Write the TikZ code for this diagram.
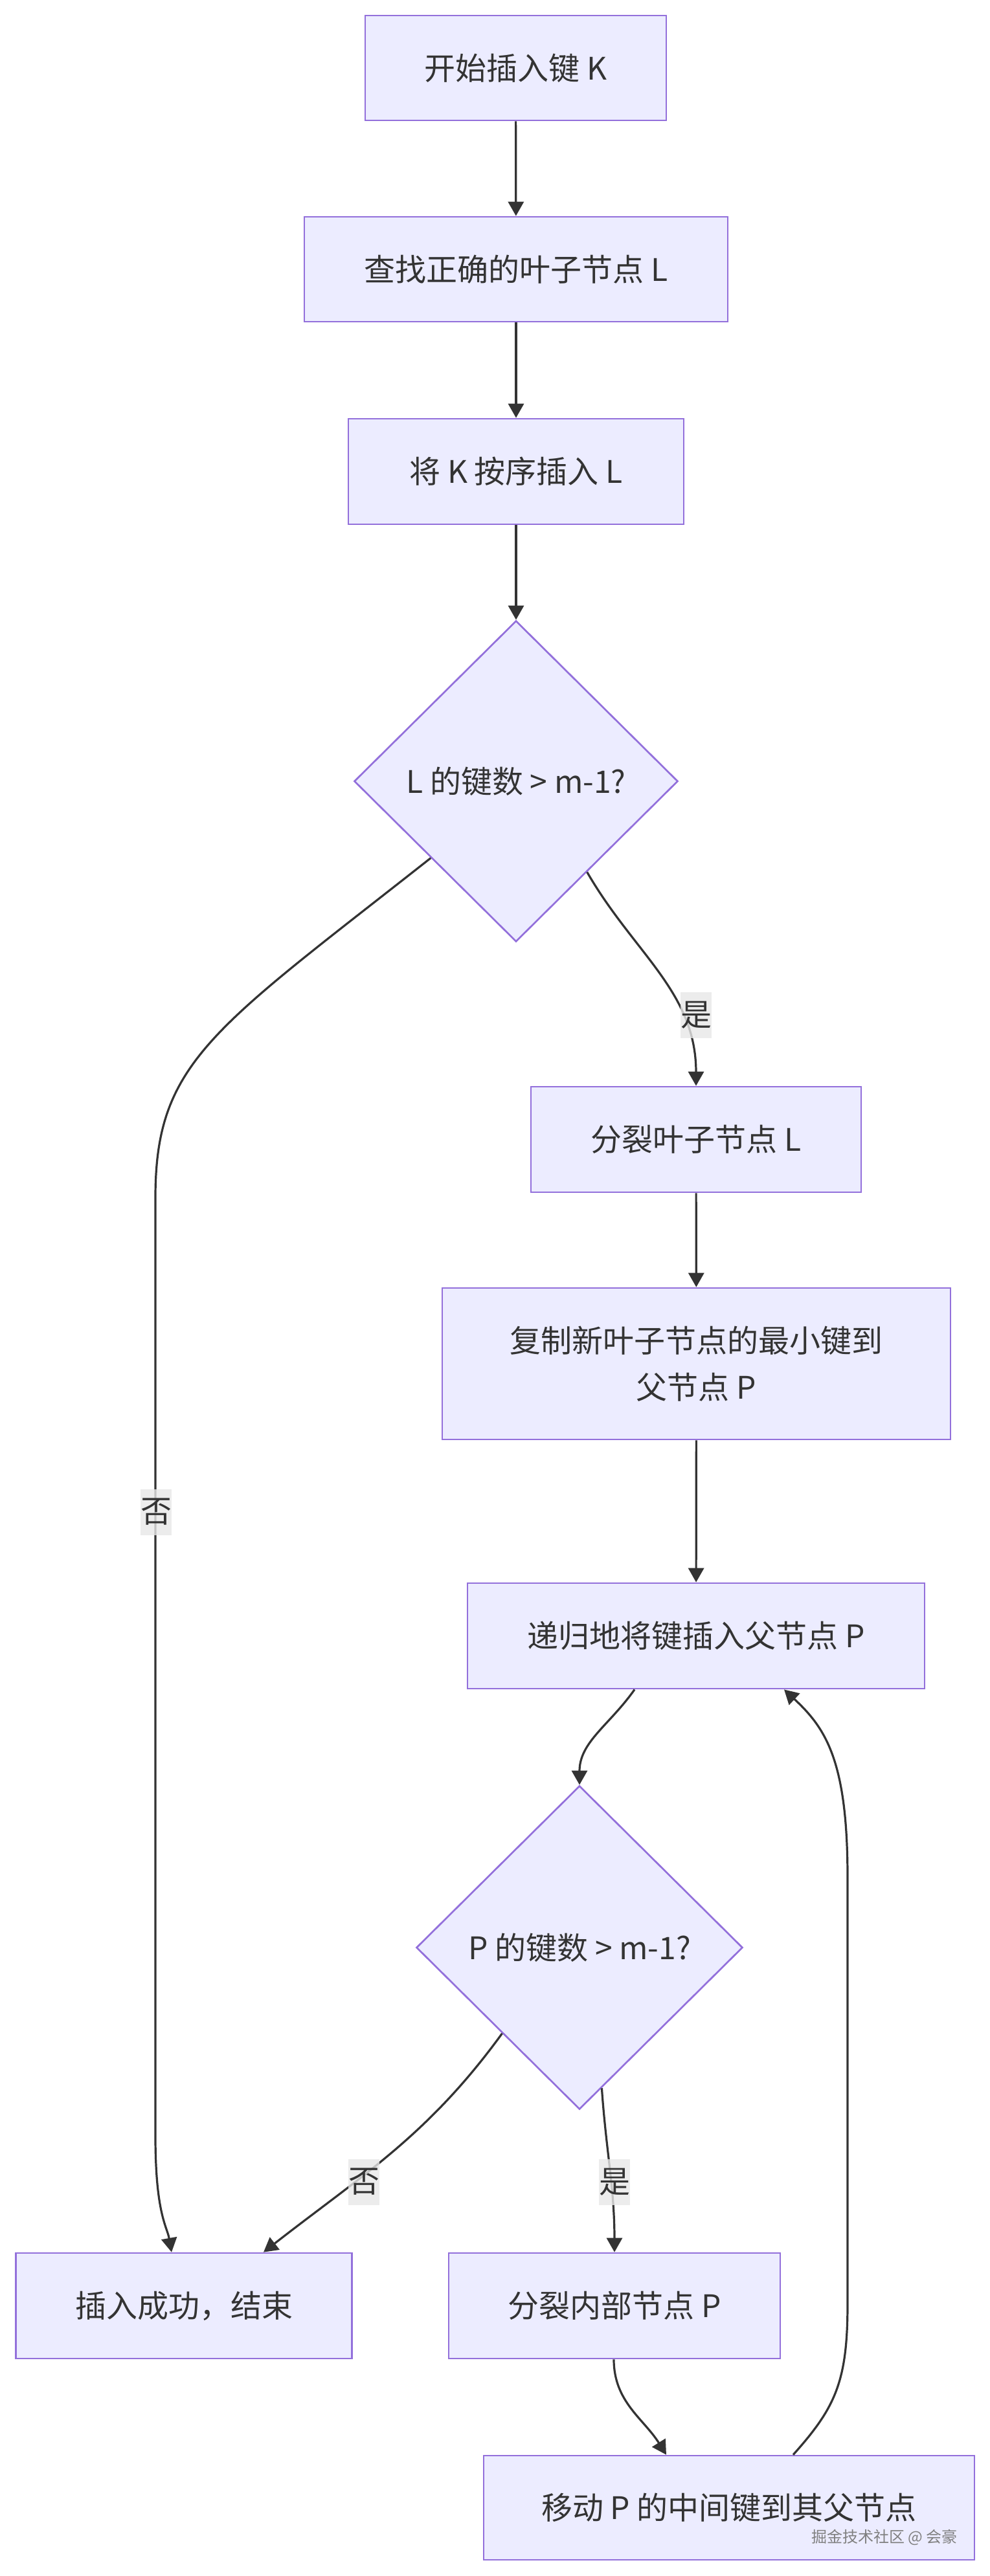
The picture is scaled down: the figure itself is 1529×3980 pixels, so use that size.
\documentclass[tikz,border=0pt]{standalone}
\usepackage{fontspec}
\setmainfont{Noto Sans CJK SC}
\usepackage{xcolor}
\usepackage{tikz}
\usetikzlibrary{shapes.geometric, arrows.meta}

\definecolor{boxfill}{HTML}{ECECFF}
\definecolor{boxline}{HTML}{9370DB}
\definecolor{edgeline}{HTML}{333333}
\definecolor{lblgray}{HTML}{E8E8E8}

\tikzset{
    procbox/.style={draw=boxline, fill=boxfill, line width=1.35pt, inner sep=0pt,
        text=edgeline, align=center, font=\fontsize{24pt}{36pt}\selectfont},
    decision/.style={procbox, diamond, minimum width=250pt, minimum height=248pt},
    flow/.style={draw=edgeline, line width=1.6pt, -{Triangle[length=11pt,width=12pt]}},
    edgelbl/.style={fill=lblgray, fill opacity=0.8, text opacity=1, text=edgeline,
        inner xsep=0pt, minimum height=35.5pt, font=\fontsize{24pt}{36pt}\selectfont}
}

\begin{document}
\begin{tikzpicture}[x=0.5pt, y=-0.5pt]
    % Canvas
    \useasboundingbox (0,0) rectangle (1529,3980);
    \fill[white] (0,0) rectangle (1529,3980);

    % Main column
    \node[procbox, minimum width=232.5pt, minimum height=81pt] (start) at (796.5,105) {开始插入键 K};
    \node[procbox, minimum width=327pt, minimum height=81pt] (find) at (797,416) {查找正确的叶子节点 L};
    \node[procbox, minimum width=259pt, minimum height=81.5pt] (insert) at (797,728.5) {将 K 按序插入 L};
    \node[decision] (check1) at (797,1207) {L 的键数 > m-1?};

    % Split branch
    \node[procbox, minimum width=255pt, minimum height=81.5pt] (splitleaf) at (1075,1760.5) {分裂叶子节点 L};
    \node[procbox, minimum width=392.5pt, minimum height=117pt] (copy) at (1075.5,2107) {复制新叶子节点的最小键到\\父节点 P};
    \node[procbox, minimum width=353pt, minimum height=81.5pt] (recur) at (1075,2527.5) {递归地将键插入父节点 P};
    \node[decision, minimum width=252pt, minimum height=250pt] (check2) at (895,3009) {P 的键数 > m-1?};

    % Bottom row
    \node[procbox, minimum width=259.5pt, minimum height=81.5pt] (done) at (284,3562.5) {插入成功，结束};
    \node[procbox, minimum width=256pt, minimum height=81.5pt] (splitint) at (949,3562.5) {分裂内部节点 P};
    \node[procbox, minimum width=379pt, minimum height=80.5pt] (move) at (1126,3874.5) {移动 P 的中间键到其父节点};
    \node[text=black!50, font=\fontsize{12pt}{14pt}\selectfont] (mark) at (1366,3920) {掘金技术社区 @ 会豪};

    % Straight arrows
    \draw[flow] (start) -- (find);
    \draw[flow] (find) -- (insert);
    \draw[flow] (insert) -- (check1);
    \draw[flow] (splitleaf) -- (copy);
    \draw[flow] (copy) -- (recur);

    % Curved arrows
    \draw[flow] (check1.-138) .. controls (330,1590) and (240,1640) .. (240,1850)
        -- (240,3300) .. controls (240,3420) and (258,3440) .. ([xshift=-9.5pt]done.north);
    \draw[flow] (check1.-52) to[out=-60, in=90] (splitleaf.north);
    \draw[flow] ([xshift=-47.5pt]recur.south) to[out=-125, in=90] (check2.north);
    \draw[flow] (check2.-132) to[out=-126, in=38] ([xshift=61.5pt]done.north);
    \draw[flow] (check2.-81) to[out=-86, in=90] (splitint.north);
    \draw[flow] ([xshift=-0.5pt]splitint.south) to[out=-90, in=122] ([xshift=-48.5pt]move.north);
    \draw[flow] ([xshift=49.5pt]move.north) .. controls (1290,3720) and (1309,3680) .. (1309,3560)
        -- (1309,2900) .. controls (1309,2720) and (1275,2670) .. ([xshift=68pt]recur.south);

    % Edge labels
    \node[edgelbl] (yes1) at (1075,1568) {是};
    \node[edgelbl] (no1) at (241,2336) {否};
    \node[edgelbl] (no2) at (562,3371) {否};
    \node[edgelbl] (yes2) at (949,3371) {是};
\end{tikzpicture}
\end{document}
